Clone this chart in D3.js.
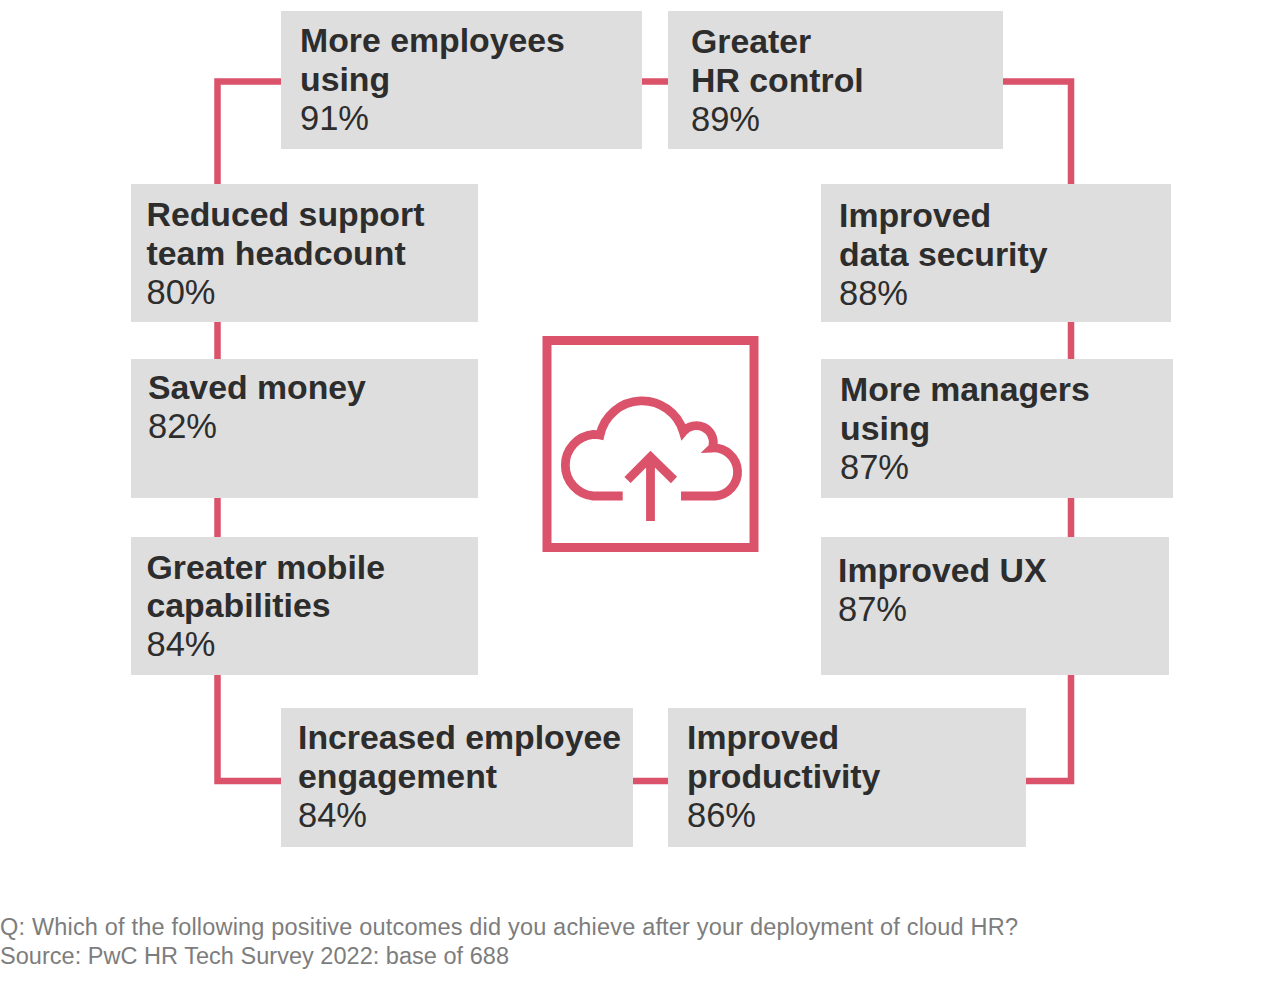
<!DOCTYPE html>
<html>
<head>
<meta charset="utf-8">
<script src="https://cdn.jsdelivr.net/npm/d3@7"></script>
<style>
  html, body { margin: 0; padding: 0; background: #fff; }
  svg { display: block; }
  text { font-family: "Liberation Sans", Arial, sans-serif; }
</style>
</head>
<body>
<div class="box"></div>
<script>
// data
const categories = [
  ['More employees', 'using'],
  ['Greater', 'HR control'],
  ['Improved', 'data security'],
  ['More managers', 'using'],
  ['Improved UX'],
  ['Improved', 'productivity'],
  ['Increased employee', 'engagement'],
  ['Greater mobile', 'capabilities'],
  ['Saved money'],
  ['Reduced support', 'team headcount']
];
const values = [91, 89, 88, 87, 87, 86, 84, 84, 82, 80];
const footnotes = [
  'Q: Which of the following positive outcomes did you achieve after your deployment of cloud HR?',
  'Source: PwC HR Tech Survey 2022: base of 688'
];

// layout: box left, top, right, bottom, text left, first baseline
const layout = [
  [281, 11, 642, 149, 300, 52],
  [668, 11, 1003, 149, 691, 53],
  [821, 184, 1171, 322, 839, 227],
  [821, 359, 1173, 498, 840, 401],
  [821, 537, 1169, 675, 838, 582],
  [668, 708, 1026, 847, 687, 749],
  [281, 708, 633, 847, 298, 749],
  [131, 537, 478, 675, 146.5, 578.5],
  [131, 359, 478, 498, 148, 399],
  [131, 184, 478, 322, 146.5, 226]
];
const ring = [[217.5, 81.5], [1071, 81.5], [1071, 781], [217.5, 781]];
const footnoteWidths = [1018, 509];

const pink = '#db526b';
const grey = '#dedede';
const dark = '#2d2d2d';
const lineHeight = 38.8;

const svg = d3.select('.box')
              .append('svg')
              .attr('width', 1280)
              .attr('height', 988);

// connecting line behind the boxes
const line = d3.line().curve(d3.curveLinearClosed);

svg.append('path')
   .attr('d', line(ring))
   .attr('fill', 'none')
   .attr('stroke', pink)
   .attr('stroke-width', 6.5);

// boxes
const boxes = svg.selectAll('g.item')
                 .data(categories.map((c, i) => ({lines: c, value: values[i], pos: layout[i]})))
                 .enter()
                 .append('g')
                 .attr('class', 'item');

boxes.append('rect')
     .attr('x', d => d.pos[0])
     .attr('y', d => d.pos[1])
     .attr('width', d => d.pos[2] - d.pos[0])
     .attr('height', d => d.pos[3] - d.pos[1])
     .attr('fill', grey);

boxes.each(function(d) {
  const g = d3.select(this);
  d.lines.forEach((t, i) => {
    g.append('text')
     .attr('x', d.pos[4])
     .attr('y', d.pos[5] + i * lineHeight)
     .attr('font-size', 33.8)
     .attr('font-weight', 700)
     .attr('fill', dark)
     .text(t);
  });
  g.append('text')
   .attr('x', d.pos[4])
   .attr('y', d.pos[5] + d.lines.length * lineHeight)
   .attr('font-size', 34.5)
   .attr('fill', dark)
   .text(d.value + '%');
});

// centre icon
const icon = svg.append('g')
                .attr('fill', 'none')
                .attr('stroke', pink);

icon.append('rect')
    .attr('x', 547)
    .attr('y', 340.5)
    .attr('width', 207)
    .attr('height', 207)
    .attr('stroke-width', 9);

icon.append('path')
    .attr('d', 'M622.7,496 H593.3 A31,31 0 0 1 593.3,434.3 Q597,434.3 600,435 A43,43 0 0 1 683.3,431.7 A17,17 0 0 1 713,446 Q713,447 712,448 A24,24 0 0 1 715,496 H681')
    .attr('stroke-width', 8.8);

icon.append('path')
    .attr('d', 'M650.5,521 V456 M627.5,480 L650.5,457 L674,480')
    .attr('stroke-width', 8.8);

// footnotes
svg.selectAll('text.note')
   .data(footnotes)
   .enter()
   .append('text')
   .attr('class', 'note')
   .attr('x', 0)
   .attr('y', (d, i) => 935 + i * 29)
   .attr('font-size', 23.5)
   .attr('textLength', (d, i) => footnoteWidths[i])
   .attr('lengthAdjust', 'spacing')
   .attr('fill', '#7d7d7d')
   .text(d => d);
</script>
</body>
</html>
